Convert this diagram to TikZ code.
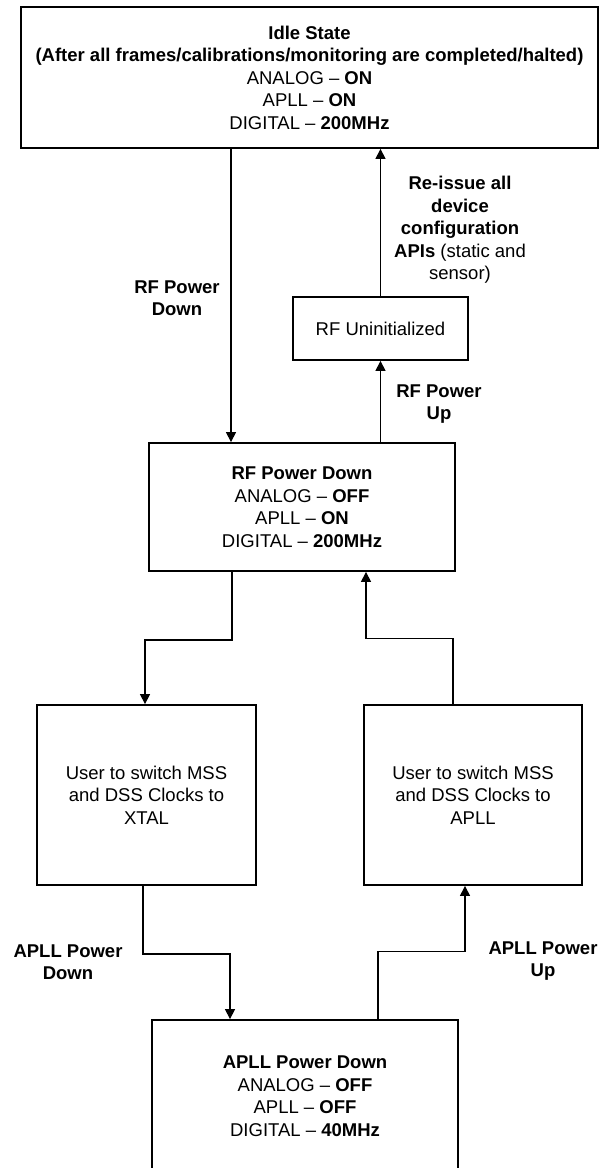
\documentclass[tikz,border=0pt]{standalone}
\usepackage{fontspec}
\setmainfont{Liberation Sans}
\usetikzlibrary{arrows.meta,positioning}
\begin{document}
\begin{tikzpicture}[x=1pt,y=-1pt,
  box/.style={draw=black,line width=1.8pt,fill=white,inner sep=0pt,align=center,
    font=\fontsize{18.5}{22.5}\selectfont},
  lbl/.style={inner sep=0pt,align=center,font=\fontsize{18.5}{22.5}\selectfont},
  arr/.style={line width=1.2pt,-{Triangle[width=10pt,length=10pt]}},
  ln/.style={line width=1.2pt}]
\useasboundingbox (0,0) rectangle (600,1168);
\clip (0,0) rectangle (600,1168);
\node[box,minimum width=577pt,minimum height=141pt] (idle) at (309.5,77.5)
  {\textbf{Idle State}\\\textbf{(After all frames/calibrations/monitoring are completed/halted)}\\ANALOG -- \textbf{ON}\\APLL -- \textbf{ON}\\DIGITAL -- \textbf{200MHz}};
\node[box,minimum width=175pt,minimum height=63pt] (uninit) at (380.5,328.5) {RF Uninitialized};
\node[box,minimum width=306pt,minimum height=128pt] (rfpd) at (302,507)
  {\textbf{RF Power Down}\\ANALOG -- \textbf{OFF}\\APLL -- \textbf{ON}\\DIGITAL -- \textbf{200MHz}};
\node[box,minimum width=219pt,minimum height=180pt] (xtal) at (146.5,795)
  {User to switch MSS\\and DSS Clocks to\\XTAL};
\node[box,minimum width=218pt,minimum height=180pt] (apll) at (473,795)
  {User to switch MSS\\and DSS Clocks to\\APLL};
\node[box,minimum width=306pt,minimum height=152pt] (aplpd) at (305,1096)
  {\textbf{APLL Power Down}\\ANALOG -- \textbf{OFF}\\APLL -- \textbf{OFF}\\DIGITAL -- \textbf{40MHz}};
% labels
\node[lbl] (l1) at (177,298) {\textbf{RF Power}\\\textbf{Down}};
\node[lbl] (l2) at (460,230) {\textbf{Re-issue all}\\\textbf{device}\\\textbf{configuration}\\\textbf{APIs} (static and\\sensor)};
\node[lbl] (l3) at (439,404) {\textbf{RF Power}\\\textbf{Up}};
\node[lbl] (l4) at (68,962) {\textbf{APLL Power}\\\textbf{Down}};
\node[lbl] (l5) at (543,961) {\textbf{APLL Power}\\\textbf{Up}};
% connectors
\draw[arr] ([xshift=-71pt]rfpd.north |- idle.south) -- ([xshift=-71pt]rfpd.north);
\draw[arr] (uninit.north) -- (uninit.north |- idle.south);
\draw[arr] (uninit.south |- rfpd.north) -- (uninit.south);
\draw[arr] ([xshift=-70pt]rfpd.south) -- ++(0,68) -| ([xshift=-1.5pt]xtal.north);
\draw[arr] ([xshift=-20pt]apll.north) -- ++(0,-66) -| ([xshift=64pt]rfpd.south);
\draw[arr] ([xshift=-3.5pt]xtal.south) -- ++(0,68) -| ([xshift=-75pt]aplpd.north);
\draw[arr] ([xshift=73pt]aplpd.north) -- ++(0,-68) -| ([xshift=-8pt]apll.south);
\end{tikzpicture}
\end{document}
